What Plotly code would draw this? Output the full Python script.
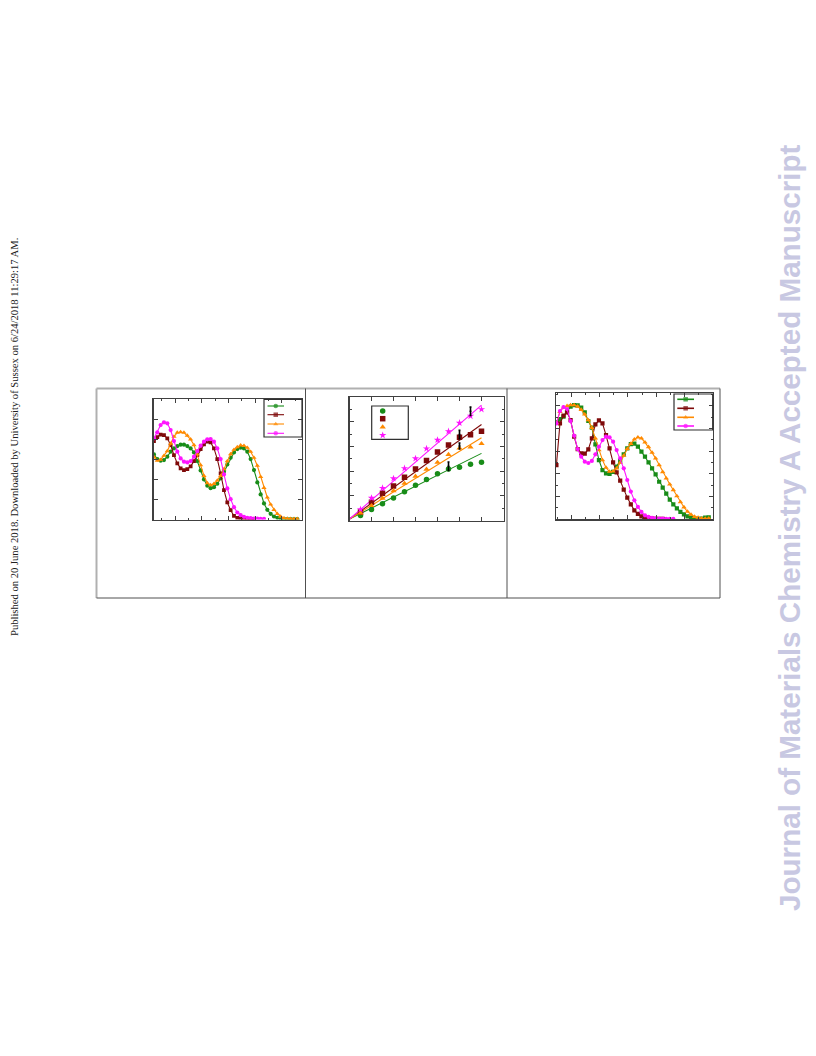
import plotly.graph_objects as go

W, H = 816, 1056

# ---------------- Panel (a): spectra ----------------
wl_a = [320.0, 332.5, 345.0, 357.5, 370.0, 382.5, 395.0, 407.5, 420.0, 432.5, 445.0,
        457.5, 470.0, 482.5, 495.0, 507.5, 520.0, 532.5, 545.0, 557.5, 570.0, 582.5,
        595.0, 607.5, 620.0, 632.5, 645.0, 657.5, 670.0, 682.5, 695.0, 707.5, 720.0,
        732.5, 745.0, 757.5, 770.0, 782.5, 795.0, 807.5, 820.0, 832.5, 845.0, 857.5]
green_a = [0.650, 0.603, 0.587, 0.593, 0.627, 0.677, 0.710, 0.733, 0.747, 0.747, 0.733,
           0.710, 0.670, 0.583, 0.490, 0.400, 0.337, 0.313, 0.323, 0.357, 0.410, 0.477,
           0.550, 0.617, 0.670, 0.703, 0.717, 0.710, 0.677, 0.603, 0.493, 0.370, 0.250,
           0.160, 0.097, 0.057, 0.030, 0.017, 0.010, 0.007, 0.003, 0.003, 0.003, 0.003]
red_a = [0.783, 0.823, 0.847, 0.843, 0.810, 0.743, 0.643, 0.560, 0.510, 0.493, 0.503,
         0.530, 0.583, 0.643, 0.703, 0.750, 0.777, 0.770, 0.710, 0.603, 0.460, 0.293,
         0.170, 0.093, 0.037, 0.017, 0.010, 0.007, 0.003, 0.003, 0.003]
orange_a = [0.623, 0.587, 0.597, 0.637, 0.683, 0.757, 0.827, 0.867, 0.873, 0.867, 0.837,
            0.800, 0.743, 0.650, 0.543, 0.437, 0.363, 0.343, 0.357, 0.390, 0.437, 0.503,
            0.583, 0.653, 0.697, 0.723, 0.740, 0.737, 0.717, 0.677, 0.617, 0.537, 0.427,
            0.317, 0.220, 0.150, 0.097, 0.057, 0.030, 0.013, 0.010, 0.007, 0.007, 0.007]
magenta_a = [0.810, 0.870, 0.943, 0.970, 0.960, 0.893, 0.783, 0.677, 0.610, 0.577, 0.570,
             0.583, 0.627, 0.683, 0.737, 0.777, 0.800, 0.803, 0.777, 0.710, 0.603, 0.450,
             0.310, 0.203, 0.123, 0.070, 0.043, 0.027, 0.017, 0.013, 0.010, 0.010, 0.007,
             0.007]

# ---------------- Panel (b): linear dependence ----------------
conc_b = [0.5, 1.0, 1.5, 2.0, 2.5, 3.0, 3.5, 4.0, 4.5, 5.0, 5.5, 6.0]
green_b = [0.20, 0.45, 0.68, 0.91, 1.16, 1.43, 1.66, 1.89, 2.09, 2.16, 2.28, 2.36]
red_b = [0.34, 0.74, 1.10, 1.40, 1.75, 2.09, 2.43, 2.77, 3.06, 3.37, 3.47, 3.61]
orange_b = [0.30, 0.60, 0.90, 1.20, 1.50, 1.79, 2.07, 2.35, 2.67, 2.93, 2.97, 3.11]
magenta_b = [0.45, 0.91, 1.31, 1.70, 2.11, 2.51, 2.91, 3.26, 3.61, 3.95, 4.23, 4.50]
fit_slope_b = [0.443, 0.638, 0.548, 0.768]   # green, red, orange, magenta
fit_icpt_b = [0.06, 0.06, 0.06, 0.06]
fit_range_b = [0.0, 6.0]
err_x_b = [4.5, 5.0, 5.0, 5.5]
err_y_b = [2.20, 3.48, 3.02, 4.42]
err_v_b = [0.17, 0.17, 0.12, 0.17]

# ---------------- Panel (c): normalised spectra ----------------
wl_c = [347.5, 360.0, 372.5, 385.0, 397.5, 410.0, 422.5, 435.0, 447.5, 460.0, 472.5,
        485.0, 497.5, 510.0, 522.5, 535.0, 547.5, 560.0, 572.5, 585.0, 597.5, 610.0,
        622.5, 635.0, 647.5, 660.0, 672.5, 685.0, 697.5, 710.0, 722.5, 735.0, 747.5,
        760.0, 772.5, 785.0, 797.5, 810.0, 822.5, 835.0, 847.5, 860.0, 872.5, 885.0]
green_c = [0.854, 0.883, 0.904, 0.948, 0.992, 1.006, 1.003, 0.983, 0.942, 0.866, 0.807,
           0.660, 0.522, 0.434, 0.405, 0.399, 0.417, 0.464, 0.513, 0.572, 0.625, 0.663,
           0.666, 0.640, 0.596, 0.552, 0.502, 0.449, 0.396, 0.331, 0.279, 0.226, 0.173,
           0.132, 0.097, 0.065, 0.044, 0.026, 0.015, 0.006, 0.003, 0.006, 0.015, 0.018]
red_c = [0.478, 0.845, 0.913, 0.942, 0.874, 0.728, 0.619, 0.581, 0.578, 0.616, 0.713,
         0.836, 0.871, 0.845, 0.742, 0.625, 0.502, 0.414, 0.341, 0.261, 0.191, 0.132,
         0.079, 0.047, 0.026, 0.015, 0.009, 0.006, 0.003, 0.003, 0.003]
orange_c = [0.845, 0.948, 0.986, 0.998, 1.006, 1.006, 0.994, 0.965, 0.924, 0.874, 0.807,
            0.713, 0.610, 0.522, 0.455, 0.420, 0.423, 0.449, 0.499, 0.561, 0.620, 0.666,
            0.704, 0.722, 0.713, 0.678, 0.637, 0.587, 0.537, 0.478, 0.417, 0.361, 0.308,
            0.258, 0.205, 0.153, 0.106, 0.068, 0.041, 0.023, 0.015, 0.009, 0.006, 0.009]
magenta_c = [0.845, 0.954, 0.989, 0.971, 0.865, 0.736, 0.619, 0.552, 0.508, 0.496, 0.514,
             0.572, 0.640, 0.698, 0.728, 0.722, 0.684, 0.610, 0.537, 0.449, 0.346, 0.244,
             0.167, 0.109, 0.065, 0.035, 0.021, 0.012, 0.009, 0.006, 0.006, 0.003, 0.003,
             0.003]

# ---------------- styles / layout constants ----------------
GREEN, RED, ORANGE, MAGENTA = "#188c18", "#7f0a0a", "#ff8a00", "#ff14ff"
AX = "#404040"

# axes boxes in pixels: (left, right, top, bottom)
BOX_A = (153.5, 302.0, 399.3, 519.5)
BOX_B = (349.5, 503.5, 397.0, 520.5)
BOX_C = (556.0, 713.0, 393.3, 519.3)


def xdom(b):
    return [b[0] / W, b[1] / W]


def ydom(b):
    return [1 - b[3] / H, 1 - b[2] / H]


def axis(dom, rng, dtick, minor=None):
    d = dict(domain=dom, range=rng, dtick=dtick, ticks="inside", ticklen=4,
             tickwidth=1, tickcolor=AX, showline=True, linecolor=AX, linewidth=1.2,
             mirror="ticks", showticklabels=False, showgrid=False, zeroline=False,
             fixedrange=True)
    if minor:
        d["minor"] = dict(dtick=minor, ticks="inside", ticklen=2, tickwidth=1,
                          tickcolor=AX, showgrid=False)
    return d


fig = go.Figure()


def curve(x, y, color, symbol, xa, ya, size=4.2):
    fig.add_trace(go.Scatter(x=x[:len(y)], y=y, mode="lines+markers",
                             line=dict(color=color, width=1.1),
                             marker=dict(color=color, symbol=symbol, size=size, line=dict(width=0)),
                             xaxis=xa, yaxis=ya, showlegend=False, hoverinfo="skip"))


# panel a
curve(wl_a, green_a, GREEN, "circle", "x", "y")
curve(wl_a, red_a, RED, "square", "x", "y", 3.8)
curve(wl_a, orange_a, ORANGE, "triangle-up", "x", "y", 4.6)
curve(wl_a, magenta_a, MAGENTA, "circle", "x", "y")

# panel b
series_b = [(green_b, GREEN, "circle"), (red_b, RED, "square"),
            (orange_b, ORANGE, "triangle-up"), (magenta_b, MAGENTA, "star")]
for (vals, color, sym), k, c0 in zip(series_b, fit_slope_b, fit_icpt_b):
    fig.add_trace(go.Scatter(x=fit_range_b, y=[c0 + k * v for v in fit_range_b],
                             mode="lines", line=dict(color=color, width=1.1),
                             xaxis="x2", yaxis="y2", showlegend=False, hoverinfo="skip"))
for vals, color, sym in series_b:
    fig.add_trace(go.Scatter(x=conc_b, y=vals, mode="markers",
                             marker=dict(color=color, symbol=sym, size=5.5, line=dict(width=0)),
                             xaxis="x2", yaxis="y2", showlegend=False, hoverinfo="skip"))
fig.add_trace(go.Scatter(x=err_x_b, y=err_y_b, mode="markers",
                         marker=dict(color="black", size=2),
                         error_y=dict(type="data", array=err_v_b, color="black",
                                      thickness=1.6, width=1),
                         xaxis="x2", yaxis="y2", showlegend=False, hoverinfo="skip"))

# panel c
curve(wl_c, green_c, GREEN, "square", "x3", "y3", 4.2)
curve(wl_c, red_c, RED, "square", "x3", "y3", 4.2)
curve(wl_c, orange_c, ORANGE, "triangle-up", "x3", "y3", 4.8)
curve(wl_c, magenta_c, MAGENTA, "circle", "x3", "y3", 4.2)

# ---------------- hand-drawn legends (no text in the original) ----------------
LEG_A = dict(box=(264.0, 302.0, 399.3, 437.0), x0=267.5, x1=284.0, ys=[406.0, 414.7, 424.0, 433.3])
LEG_B = dict(box=(371.7, 408.3, 406.0, 439.3), xm=382.7, ys=[411.0, 418.7, 427.0, 435.3])
LEG_C = dict(box=(674.0, 712.7, 394.0, 430.0), x0=677.3, x1=694.0, ys=[399.3, 408.3, 417.3, 426.0])

sym_a = [(GREEN, "circle"), (RED, "square"), (ORANGE, "triangle-up"), (MAGENTA, "circle")]
sym_c = [(GREEN, "square"), (RED, "square"), (ORANGE, "triangle-up"), (MAGENTA, "circle")]

for leg, syms, lw in ((LEG_A, sym_a, 1.1), (LEG_C, sym_c, 1.6)):
    xm = (leg["x0"] + leg["x1"]) / 2
    for (color, sym), yy in zip(syms, leg["ys"]):
        fig.add_trace(go.Scatter(x=[leg["x0"], xm, leg["x1"]], y=[yy, yy, yy],
                                 mode="lines+markers", line=dict(color=color, width=lw),
                                 marker=dict(color=color, symbol=sym, size=[0, 4.5, 0], line=dict(width=0)),
                                 xaxis="x4", yaxis="y4", showlegend=False, hoverinfo="skip"))
for (vals, color, sym), yy in zip(series_b, LEG_B["ys"]):
    fig.add_trace(go.Scatter(x=[LEG_B["xm"]], y=[yy], mode="markers",
                             marker=dict(color=color, symbol=sym, size=5.5, line=dict(width=0)),
                             xaxis="x4", yaxis="y4", showlegend=False, hoverinfo="skip"))

shapes = []


def pline(x0, y0, x1, y1, color, width):
    shapes.append(dict(type="line", xref="paper", yref="paper", x0=x0 / W, x1=x1 / W,
                       y0=1 - y0 / H, y1=1 - y1 / H, line=dict(color=color, width=width)))


for leg in (LEG_A, LEG_B, LEG_C):
    l, r, t, b = leg["box"]
    shapes.append(dict(type="rect", xref="paper", yref="paper", x0=l / W, x1=r / W,
                       y0=1 - b / H, y1=1 - t / H, line=dict(color="#303030", width=1.2),
                       fillcolor="rgba(0,0,0,0)"))

# outer frame and panel dividers
FL, FR, FT, FB = 96.5, 720.0, 388.5, 598.0
pline(FL, FT, FR, FT, "#b0b0b0", 2)
pline(FL, FT, FL, FB, "#b0b0b0", 2)
pline(FL, FB, FR, FB, "#505050", 1)
pline(FR, FT, FR, FB, "#505050", 1)
pline(305.5, FT, 305.5, FB, "#505050", 1)
pline(507.0, FT, 507.0, FB, "#505050", 1)

annotations = [
    dict(text="Published on 20 June 2018. Downloaded by University of Sussex on 6/24/2018 11:29:17 AM.",
         xref="paper", yref="paper", x=14 / W, y=1 - 437 / H, showarrow=False, textangle=-90,
         xanchor="center", yanchor="middle",
         font=dict(family="Liberation Serif", size=10.6, color="#202020")),
    dict(text="<b>Journal of Materials Chemistry A Accepted Manuscript</b>",
         xref="paper", yref="paper", x=789 / W, y=1 - 528 / H, showarrow=False, textangle=-90,
         xanchor="center", yanchor="middle",
         font=dict(family="Liberation Sans", size=29.6, color="#c8c8e2")),
]

fig.update_layout(
    width=W, height=H, margin=dict(l=0, r=0, t=0, b=0),
    paper_bgcolor="white", plot_bgcolor="rgba(0,0,0,0)", showlegend=False,
    xaxis=axis(xdom(BOX_A), [318.3, 875], 100, 50),
    yaxis=axis(ydom(BOX_A), [0, 1.2], 0.2),
    xaxis2=axis(xdom(BOX_B), [0, 7], 1),
    yaxis2=axis(ydom(BOX_B), [0, 5], 1, 0.5),
    xaxis3=axis(xdom(BOX_C), [346, 900], 100, 50),
    yaxis3=axis(ydom(BOX_C), [0, 1.11], 0.2, 0.1),
    xaxis4=dict(domain=[0, 1], range=[0, W], visible=False, fixedrange=True, anchor="y4"),
    yaxis4=dict(domain=[0, 1], range=[H, 0], visible=False, fixedrange=True, anchor="x4"),
    shapes=shapes, annotations=annotations,
)
fig.update_layout(xaxis=dict(anchor="y"), yaxis=dict(anchor="x"),
                  xaxis2=dict(anchor="y2"), yaxis2=dict(anchor="x2"),
                  xaxis3=dict(anchor="y3"), yaxis3=dict(anchor="x3"))

# remove the browser's default 8px body margin so the figure sits at the page origin
fig.write_html("out.html", config={"displayModeBar": False, "staticPlot": True},
               post_script="document.body.style.margin='0px';document.body.style.padding='0px';")
